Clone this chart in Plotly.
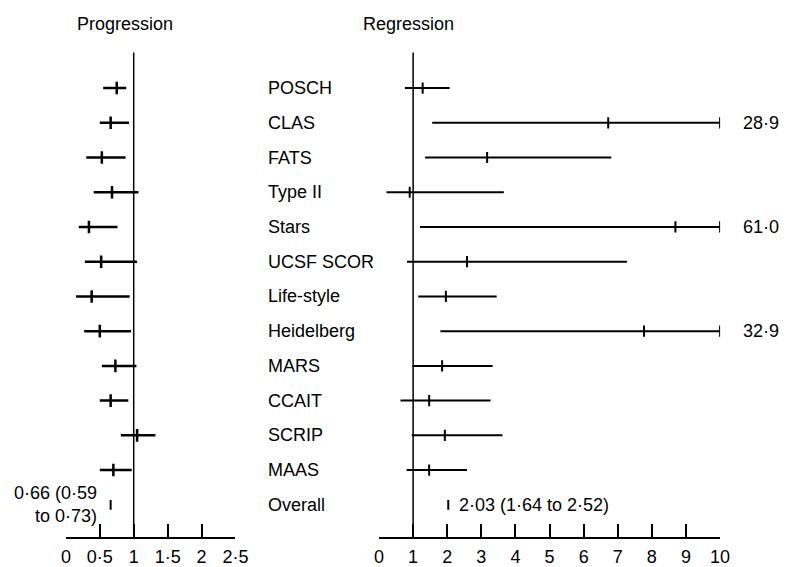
import plotly.graph_objects as go

studies = ["POSCH", "CLAS", "FATS", "Type II", "Stars", "UCSF SCOR", "Life-style",
           "Heidelberg", "MARS", "CCAIT", "SCRIP", "MAAS"]

# Progression odds ratios (left panel)
prog_est = [0.75, 0.66, 0.53, 0.68, 0.34, 0.52, 0.38, 0.50, 0.73, 0.66, 1.05, 0.70]
prog_lo = [0.55, 0.50, 0.30, 0.41, 0.19, 0.28, 0.15, 0.27, 0.53, 0.50, 0.81, 0.50]
prog_hi = [0.89, 0.93, 0.88, 1.07, 0.76, 1.05, 0.94, 0.96, 1.04, 0.92, 1.32, 0.97]
prog_overall = 0.66
prog_overall_text = ["0·66 (0·59", "to 0·73)"]

# Regression odds ratios (right panel); upper limits beyond 10 are truncated
reg_est = [1.28, 6.72, 3.17, 0.90, 8.69, 2.58, 1.96, 7.77, 1.85, 1.47, 1.93, 1.47]
reg_lo = [0.76, 1.56, 1.35, 0.22, 1.20, 0.82, 1.15, 1.80, 0.98, 0.63, 0.96, 0.81]
reg_hi = [2.07, 28.9, 6.81, 3.66, 61.0, 7.27, 3.45, 32.9, 3.33, 3.27, 3.62, 2.58]
reg_hi_labels = ["", "28·9", "", "", "61·0", "", "", "32·9", "", "", "", ""]
reg_overall = 2.03
reg_overall_text = "2·03 (1·64 to 2·52)"

prog_ticks = [0, 0.5, 1, 1.5, 2, 2.5]
prog_ticktext = ["0", "0·5", "1", "1·5", "2", "2·5"]
reg_ticks = list(range(0, 11))
reg_ticktext = [str(t) for t in reg_ticks]

REG_MAX = 10
FONT = "Liberation Sans, Arial, Helvetica, sans-serif"
W, H = 793, 567


def fx(px):  # page x pixel -> paper fraction
    return px / W


def fy(py):  # page y pixel -> paper fraction (from bottom)
    return (H - py) / H


fig = go.Figure()

rows = list(range(len(studies)))
overall_row = len(studies)

# CI lines
for i in rows:
    fig.add_trace(go.Scatter(x=[prog_lo[i], prog_hi[i]], y=[i, i], mode="lines",
                             line=dict(color="black", width=2.5), xaxis="x", yaxis="y",
                             showlegend=False, hoverinfo="skip"))
    hi = min(reg_hi[i], REG_MAX)
    fig.add_trace(go.Scatter(x=[reg_lo[i], hi], y=[i, i], mode="lines",
                             line=dict(color="black", width=2), xaxis="x2", yaxis="y",
                             showlegend=False, hoverinfo="skip"))

# point estimates (short vertical ticks)
fig.add_trace(go.Scatter(x=prog_est, y=rows, mode="markers", xaxis="x", yaxis="y",
                         marker=dict(symbol="line-ns", size=9, line=dict(color="black", width=2.5)),
                         showlegend=False))
fig.add_trace(go.Scatter(x=reg_est, y=rows, mode="markers", xaxis="x2", yaxis="y",
                         marker=dict(symbol="line-ns", size=8, line=dict(color="black", width=2)),
                         showlegend=False))
# end ticks for truncated intervals
trunc_rows = [i for i in rows if reg_hi[i] > REG_MAX]
fig.add_trace(go.Scatter(x=[REG_MAX] * len(trunc_rows), y=trunc_rows, mode="markers",
                         xaxis="x2", yaxis="y",
                         marker=dict(symbol="line-ns", size=8, line=dict(color="black", width=2)),
                         showlegend=False))
# overall
fig.add_trace(go.Scatter(x=[prog_overall], y=[overall_row], mode="markers", xaxis="x", yaxis="y",
                         marker=dict(symbol="line-ns", size=7, line=dict(color="black", width=2)),
                         showlegend=False))
fig.add_trace(go.Scatter(x=[reg_overall], y=[overall_row], mode="markers", xaxis="x2", yaxis="y",
                         marker=dict(symbol="line-ns", size=7, line=dict(color="black", width=2)),
                         showlegend=False))

# reference lines at 1
for xr in ["x", "x2"]:
    fig.add_shape(type="line", xref=xr, yref="y domain", x0=1, x1=1, y0=0, y1=1,
                  line=dict(color="black", width=1.5))

LBL = dict(size=18, color="black", family=FONT)
ann = []
for i, s in enumerate(studies + ["Overall"]):
    ann.append(dict(x=fx(267), xref="paper", y=i, yref="y", text=s, showarrow=False,
                    xanchor="left", yanchor="middle", font=LBL))
for i, t in enumerate(reg_hi_labels):
    if t:
        ann.append(dict(x=REG_MAX, xref="x2", y=i, yref="y", text=t, showarrow=False,
                        xanchor="left", xshift=21, yanchor="middle", font=LBL))
ann.append(dict(x=reg_overall, xref="x2", y=overall_row, yref="y", text=reg_overall_text,
                showarrow=False, xanchor="left", xshift=9, yanchor="middle", font=LBL))
ann.append(dict(x=prog_overall, xref="x", y=overall_row, yref="y",
                text="<br>".join(prog_overall_text), align="right",
                showarrow=False, xanchor="right", xshift=-12, yanchor="middle", font=LBL))
ann.append(dict(x=fx(72), xref="paper", y=fy(24), yref="paper", text="Progression",
                showarrow=False, xanchor="left", yanchor="middle", font=LBL))
ann.append(dict(x=fx(364), xref="paper", y=fy(24), yref="paper", text="Regression",
                showarrow=False, xanchor="left", yanchor="middle", font=LBL))

axis_common = dict(showgrid=False, zeroline=False, showline=True, linecolor="black", linewidth=1.5,
                   ticks="inside", ticklen=14, tickwidth=1.5, tickcolor="black",
                   ticklabelstandoff=2,
                   tickfont=dict(size=18, color="black", family=FONT), anchor="y")

r_top = -(89 - 53) / 35.1
r_bot = 12 + (543 - 510.2) / 35.1

fig.update_layout(
    width=W, height=H, margin=dict(l=0, r=0, t=0, b=0),
    paper_bgcolor="white", plot_bgcolor="white", showlegend=False, hovermode=False,
    xaxis=dict(domain=[fx(62.3), fx(235.8)], range=[0, 2.5], tickvals=prog_ticks,
               ticktext=prog_ticktext, **axis_common),
    xaxis2=dict(domain=[fx(382.7), fx(731.7)], range=[0, 10], tickvals=reg_ticks,
                ticktext=reg_ticktext, **axis_common),
    yaxis=dict(domain=[fy(543), fy(53)], range=[r_bot, r_top], visible=False),
    annotations=ann,
)

fig.write_html("out.html", config={"displayModeBar": False},
               post_script="document.body.style.margin='0';document.body.style.overflow='hidden';")
